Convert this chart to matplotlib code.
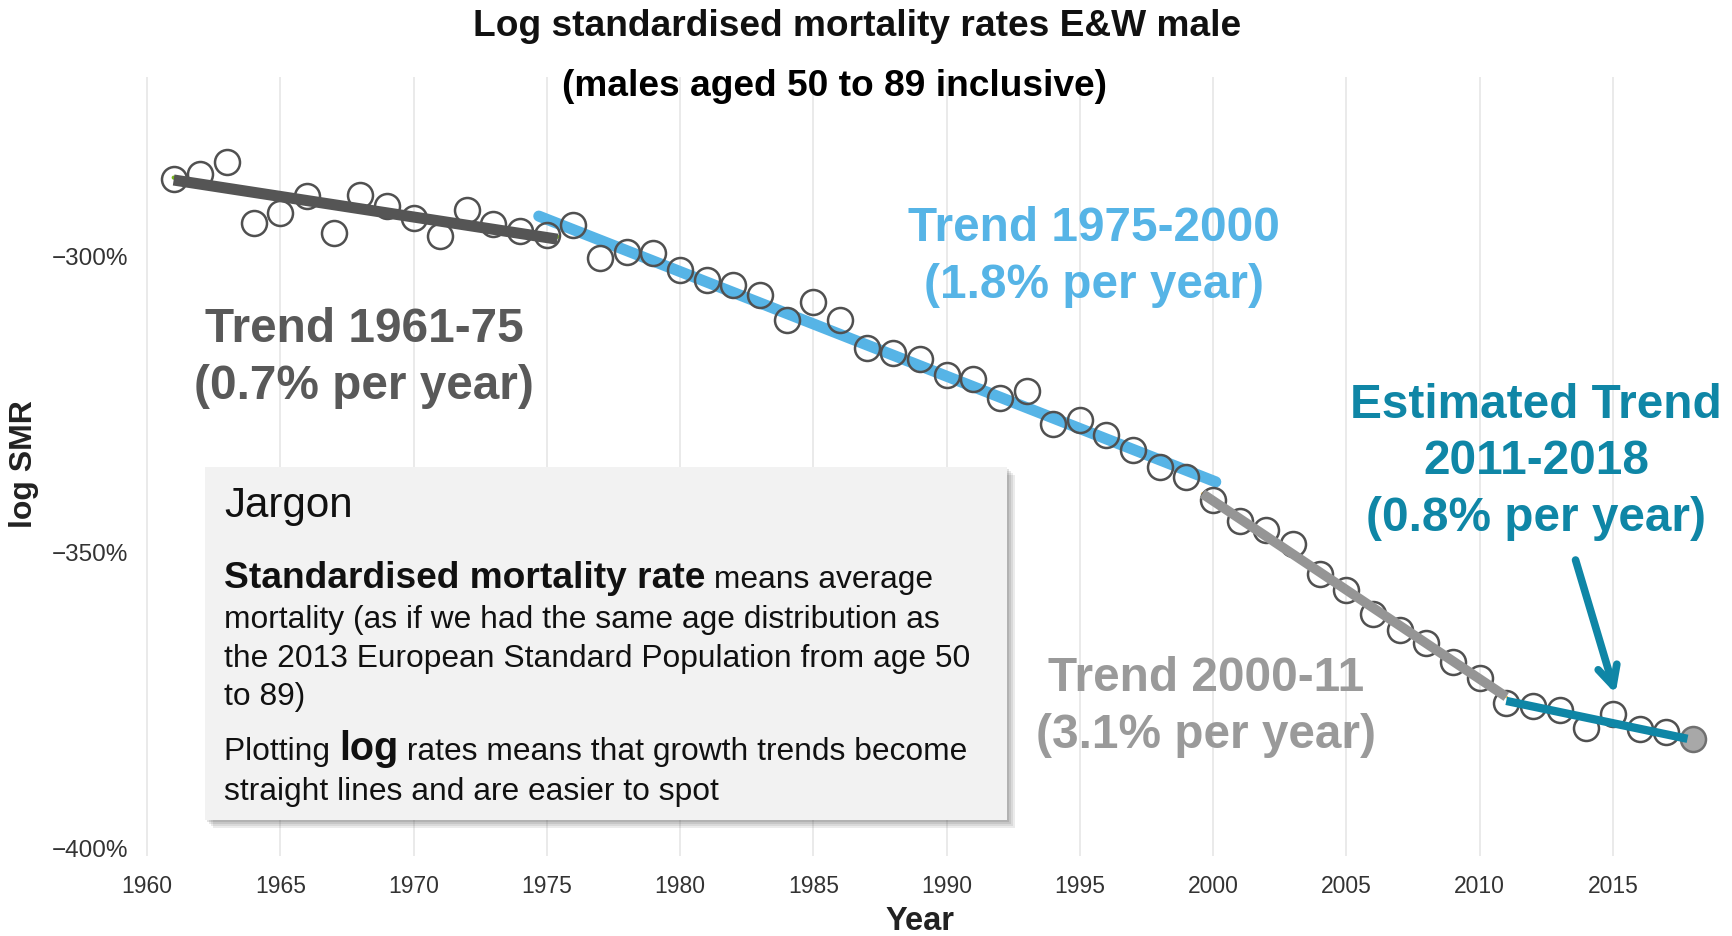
import matplotlib
matplotlib.use('Agg')
import matplotlib.pyplot as plt
from matplotlib.patches import Rectangle

# ---------------- data ----------------
years = list(range(1961, 2019))
log_smr = [-286.9, -286.0, -284.0, -294.2, -292.5, -289.7, -295.9, -289.6, -291.4, -293.5,
           -296.5, -292.0, -294.4, -295.7, -296.3, -294.6, -300.2, -299.1, -299.3, -302.2,
           -303.9, -304.7, -306.5, -310.6, -307.6, -310.6, -315.3, -316.2, -317.2, -320.0,
           -320.7, -323.9, -322.6, -328.2, -327.6, -330.0, -332.6, -335.4, -337.1, -341.0,
           -344.6, -346.1, -348.5, -353.5, -356.3, -360.3, -363.1, -365.3, -368.5, -371.1,
           -375.4, -375.9, -376.5, -379.5, -377.2, -379.7, -380.2, -381.5]

trend61_years = [1961.0, 1975.4]
trend61_vals = [-287.0, -297.0]
trend75_years = [1974.7, 2000.1]
trend75_vals = [-293.1, -338.0]
trend00_years = [1999.6, 2011.0]
trend00_vals = [-340.0, -374.3]
trend11_years = [2011.0, 2017.8]
trend11_vals = [-375.0, -381.4]

arrow_start = (2013.6, -351.2)
arrow_end = (2015.1, -373.8)

xticks = [1960, 1965, 1970, 1975, 1980, 1985, 1990, 1995, 2000, 2005, 2010, 2015]
yticks = [-300, -350, -400]
ytick_labels = ['\u2212300%', '\u2212350%', '\u2212400%']

# ---------------- figure ----------------
W, H = 1732, 936
plt.rcParams['font.family'] = ['Liberation Sans', 'DejaVu Sans']
fig = plt.figure(figsize=(W / 100, H / 100), dpi=100)

ax_left, ax_right = 135, 1732
ax_top, ax_bottom = 77, 856
ax = fig.add_axes([ax_left / W, 1 - ax_bottom / H, (ax_right - ax_left) / W, (ax_bottom - ax_top) / H])
ax.set_xlim(1960 - (147 - ax_left) / 26.65, 2019.47)
ax.set_ylim(-401.2, -269.6)
for s in ax.spines.values():
    s.set_visible(False)
ax.set_xticks(xticks)
ax.set_yticks(yticks)
ax.set_yticklabels(ytick_labels)
ax.tick_params(length=0, labelsize=16.5, colors='#333333')
ax.tick_params(axis='y', pad=5, labelsize=17.5)
ax.tick_params(axis='x', pad=14)
ax.grid(axis='x', color='#e6e6e6', lw=1.2)
ax.grid(axis='y', visible=False)
ax.set_axisbelow(True)

# points
ax.plot(years[:-1], log_smr[:-1], 'o', ms=18, mfc='none', mec='#505050', mew=1.8, zorder=4)
ax.plot(years[-1:], log_smr[-1:], 'o', ms=18, mfc='#a8a8a8', mec='#707070', mew=1.8, zorder=4)

# trends
ax.plot(trend61_years, [v + 0.4 for v in trend61_vals], color='#7ab51d', lw=3, solid_capstyle='round', zorder=3)
ax.plot(trend61_years, trend61_vals, color='#555555', lw=8, solid_capstyle='butt', zorder=5)
ax.plot(trend75_years, trend75_vals, color='#56b4e6', lw=8, solid_capstyle='round', zorder=3)
ax.plot(trend00_years, trend00_vals, color='#e8c060', lw=2, zorder=3)
ax.plot(trend00_years, trend00_vals, color='#959595', lw=7, solid_capstyle='butt', zorder=5)
ax.plot(trend11_years, trend11_vals, color='#0f86a6', lw=6, solid_capstyle='butt', zorder=5)

ax.annotate('', xy=arrow_end, xytext=arrow_start,
            arrowprops=dict(arrowstyle='->,head_length=1.4,head_width=0.7', color='#0f86a6',
                            lw=5.5, shrinkA=0, shrinkB=0), zorder=6)


def ftext(x, y, s, **kw):
    return fig.text(x / W, 1 - y / H, s, **kw)


# titles
ftext(857, 27, 'Log standardised mortality rates E&W male', ha='center', va='center',
      fontsize=26.7, fontweight='bold', color='#111111')
ftext(834, 86, '(males aged 50 to 89 inclusive)', ha='center', va='center',
      fontsize=26.7, fontweight='bold', color='#000000')
ftext(24, 464, 'log SMR', ha='center', va='center', rotation=90, fontsize=23,
      fontweight='bold', color='#222222')
ftext(920, 921, 'Year', ha='center', va='center', fontsize=23.5, fontweight='bold', color='#222222')

# trend annotations
ann_kw = dict(ha='center', va='center', fontsize=34.4, fontweight='bold', linespacing=1.33)
ftext(364, 358, 'Trend 1961-75\n(0.7% per year)', color='#595959', **ann_kw)
ftext(1094, 257, 'Trend 1975-2000\n(1.8% per year)', color='#56b4e6', **ann_kw)
ftext(1536, 462, 'Estimated Trend\n2011-2018\n(0.8% per year)', color='#0f86a6', **ann_kw)
ftext(1206, 707, 'Trend 2000-11\n(3.1% per year)', color='#9a9a9a', **ann_kw)

# jargon box
bx0, by0, bx1, by1 = 205, 467, 1007, 820
for i, a in enumerate([0.10, 0.10, 0.12, 0.15]):
    off = 8 - 2 * i
    fig.patches.append(Rectangle(((bx0 + off) / W, 1 - (by1 + off) / H), (bx1 - bx0) / W, (by1 - by0) / H,
                                 transform=fig.transFigure, facecolor='#404040', alpha=a,
                                 edgecolor='none', zorder=7))
fig.patches.append(Rectangle((bx0 / W, 1 - by1 / H), (bx1 - bx0) / W, (by1 - by0) / H,
                             transform=fig.transFigure, facecolor='#f2f2f2', edgecolor='none', zorder=8))

r = fig.canvas.get_renderer()
tx = 224
ftext(tx, 517, 'Jargon', ha='left', va='baseline', fontsize=30.3, color='#111111', zorder=9)


def seq_line(y, pieces):
    x = tx
    for s, size, weight in pieces:
        t = ftext(x, y, s, ha='left', va='baseline', fontsize=size, fontweight=weight,
                  color='#111111', zorder=9)
        bb = t.get_window_extent(renderer=r)
        x += bb.width


body = 22.9
seq_line(588, [('Standardised mortality rate', 26.7, 'bold'), (' means average', body, 'normal')])
ftext(tx, 628, 'mortality (as if we had the same age distribution as', ha='left', va='baseline',
      fontsize=body, color='#111111', zorder=9)
ftext(tx, 667, 'the 2013 European Standard Population from age 50', ha='left', va='baseline',
      fontsize=body, color='#111111', zorder=9)
ftext(tx, 705, 'to 89)', ha='left', va='baseline', fontsize=body, color='#111111', zorder=9)
seq_line(760, [('Plotting ', body, 'normal'), ('log', 28.5, 'bold'),
               (' rates means that growth trends become', body, 'normal')])
ftext(tx, 800, 'straight lines and are easier to spot', ha='left', va='baseline',
      fontsize=body, color='#111111', zorder=9)

fig.savefig('out.png', dpi=100, facecolor='white')
